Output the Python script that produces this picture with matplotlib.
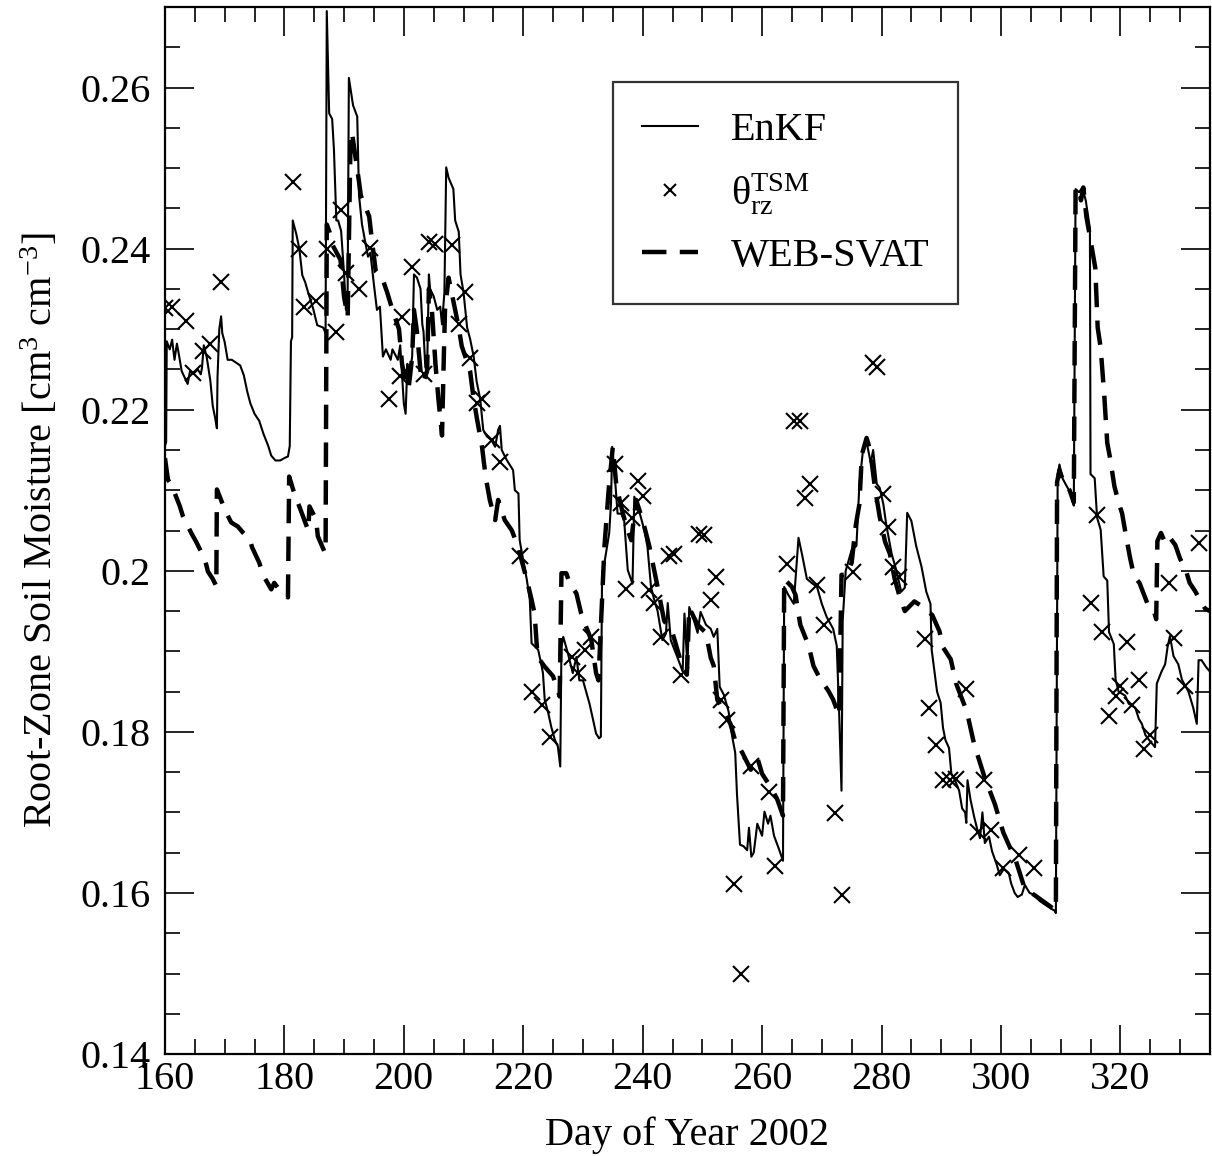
import numpy as np
import matplotlib
matplotlib.use("Agg")
import matplotlib.pyplot as plt
from matplotlib.ticker import MultipleLocator, FuncFormatter

# ================== DATA ==================
enkf_day = [160.0, 160.2, 160.3, 160.8, 161.2, 161.6, 162.0, 162.3, 162.8, 163.3, 163.8, 164.2, 164.8, 165.5,
            166.0, 166.2, 166.5, 167.0, 167.6, 168.0, 168.4, 168.7, 168.8, 169.1, 169.4, 169.6, 170.0, 170.5,
            171.2, 172.0, 172.6, 173.2, 173.8, 174.3, 175.0, 175.8, 176.5, 177.3, 177.8, 178.5, 179.3, 180.0,
            180.6, 180.9, 181.1, 181.3, 181.4, 182.0, 182.5, 183.0, 183.5, 184.0, 184.8, 185.5, 186.5, 186.9,
            187.1, 187.5, 188.0, 188.3, 188.7, 189.0, 189.5, 190.0, 190.3, 190.6, 190.8, 191.5, 192.2, 192.5,
            193.0, 194.0, 194.4, 195.0, 195.5, 196.0, 196.5, 197.0, 197.8, 198.1, 199.0, 199.4, 200.0, 200.3,
            200.6, 200.8, 201.4, 201.7, 202.2, 202.8, 203.1, 203.3, 203.6, 203.9, 204.2, 204.4, 205.0, 205.6,
            206.1, 206.4, 206.8, 207.1, 207.5, 208.3, 208.6, 209.2, 209.5, 210.0, 210.6, 211.1, 211.7, 212.2,
            212.8, 213.3, 213.9, 214.7, 215.3, 215.8, 216.1, 216.4, 217.2, 218.3, 218.6, 219.2, 219.4, 220.0,
            220.6, 221.1, 221.4, 222.5, 223.1, 223.3, 223.6, 224.2, 224.7, 225.3, 225.8, 226.2, 226.4, 226.7,
            227.5, 228.3, 228.9, 229.4, 230.0, 230.6, 231.1, 231.7, 232.2, 232.7, 233.0, 233.2, 233.6, 234.4,
            234.7, 234.9, 235.3, 235.8, 236.4, 236.9, 237.5, 238.3, 238.6, 239.2, 240.3, 240.8, 241.4, 241.9,
            242.5, 243.3, 243.9, 244.2, 244.7, 245.8, 246.7, 247.0, 247.5, 247.8, 248.6, 249.2, 249.7, 250.6,
            251.4, 251.9, 252.5, 252.9, 253.6, 254.4, 255.0, 255.5, 255.8, 256.3, 256.9, 257.5, 257.8, 258.2,
            258.6, 259.2, 260.0, 260.4, 261.0, 261.4, 262.0, 262.8, 263.5, 263.7, 264.4, 265.3, 266.1, 266.7,
            267.5, 268.3, 269.2, 270.0, 270.8, 271.9, 272.5, 272.9, 273.3, 273.5, 274.0, 275.0, 275.8, 276.3,
            276.9, 277.5, 278.2, 278.6, 279.2, 279.7, 280.3, 280.8, 281.7, 282.5, 283.3, 283.9, 284.3, 285.0,
            285.8, 286.7, 287.5, 288.2, 288.4, 289.3, 289.9, 290.3, 290.7, 291.3, 291.7, 292.3, 293.0, 293.5,
            294.0, 294.2, 294.4, 294.9, 295.5, 296.0, 296.5, 296.9, 297.3, 298.0, 298.5, 299.3, 299.8, 300.5,
            301.3, 301.7, 302.3, 302.8, 303.5, 304.0, 304.8, 305.5, 306.5, 307.5, 308.5, 309.0, 309.2, 309.5,
            309.8, 310.3, 310.8, 311.4, 311.9, 312.2, 312.5, 313.1, 313.6, 314.2, 314.6, 314.9, 315.0, 315.7,
            316.1, 316.7, 317.2, 317.8, 318.1, 318.9, 319.2, 319.7, 320.8, 321.4, 322.5, 323.1, 323.6, 324.2,
            324.7, 325.8, 326.1, 326.9, 327.5, 327.9, 328.3, 328.9, 329.7, 330.3, 331.4, 332.2, 332.8, 333.1,
            333.6, 334.4, 335.0]
enkf_val = [0.2155, 0.2160, 0.2285, 0.2275, 0.2287, 0.2262, 0.2282, 0.2270, 0.2248, 0.2240, 0.2232, 0.2248,
            0.2245, 0.2250, 0.2244, 0.2252, 0.2280, 0.2265, 0.2236, 0.2205, 0.2190, 0.2177, 0.2240, 0.2300,
            0.2316, 0.2295, 0.2284, 0.2262, 0.2262, 0.2258, 0.2255, 0.2243, 0.2222, 0.2208, 0.2195, 0.2186,
            0.2170, 0.2155, 0.2143, 0.2137, 0.2137, 0.2140, 0.2142, 0.2155, 0.2285, 0.2290, 0.2435, 0.2418,
            0.2400, 0.2367, 0.2358, 0.2345, 0.2326, 0.2305, 0.2302, 0.2295, 0.2695, 0.2568, 0.2561, 0.2523,
            0.2435, 0.2435, 0.2422, 0.2368, 0.2324, 0.2350, 0.2612, 0.2578, 0.2564, 0.2466, 0.2430, 0.2390,
            0.2395, 0.2355, 0.2324, 0.2328, 0.2266, 0.2275, 0.2262, 0.2275, 0.2262, 0.2280, 0.2208, 0.2195,
            0.2257, 0.2235, 0.2266, 0.2368, 0.2364, 0.2350, 0.2306, 0.2297, 0.2253, 0.2248, 0.2368, 0.2350,
            0.2341, 0.2324, 0.2328, 0.2306, 0.2346, 0.2501, 0.2488, 0.2474, 0.2435, 0.2421, 0.2368, 0.2346,
            0.2302, 0.2288, 0.2266, 0.2235, 0.2213, 0.2175, 0.2167, 0.2162, 0.2154, 0.2175, 0.2180, 0.2150,
            0.2138, 0.2125, 0.2100, 0.2096, 0.2038, 0.2013, 0.1989, 0.1964, 0.1910, 0.1902, 0.1881, 0.1873,
            0.1840, 0.1823, 0.1806, 0.1790, 0.1782, 0.1757, 0.1906, 0.1918, 0.1897, 0.1873, 0.1893, 0.1864,
            0.1864, 0.1848, 0.1835, 0.1815, 0.1798, 0.1792, 0.1794, 0.1997, 0.2010, 0.2047, 0.2084, 0.2154,
            0.2121, 0.2071, 0.2071, 0.2063, 0.2001, 0.1984, 0.2092, 0.2080, 0.2050, 0.2030, 0.1980, 0.1965,
            0.1950, 0.1914, 0.1922, 0.1960, 0.1914, 0.1893, 0.1875, 0.1947, 0.1880, 0.1955, 0.1938, 0.1923,
            0.1949, 0.1933, 0.1928, 0.1918, 0.1928, 0.1856, 0.1846, 0.1825, 0.1794, 0.1774, 0.1722, 0.1660,
            0.1658, 0.1653, 0.1681, 0.1645, 0.1650, 0.1686, 0.1671, 0.1701, 0.1686, 0.1696, 0.1671, 0.1655,
            0.1640, 0.1980, 0.1970, 0.1959, 0.2041, 0.2020, 0.1990, 0.1985, 0.1980, 0.1959, 0.1943, 0.1928,
            0.1907, 0.1825, 0.1727, 0.1938, 0.2000, 0.2026, 0.2031, 0.2108, 0.2150, 0.2160, 0.2134, 0.2150,
            0.2108, 0.2103, 0.2083, 0.2057, 0.2021, 0.2000, 0.1974, 0.1979, 0.2072, 0.2062, 0.2031, 0.2005,
            0.1974, 0.1959, 0.1902, 0.1850, 0.1836, 0.1805, 0.1790, 0.1780, 0.1748, 0.1740, 0.1727, 0.1705,
            0.1700, 0.1687, 0.1740, 0.1716, 0.1695, 0.1680, 0.1668, 0.1700, 0.1662, 0.1670, 0.1652, 0.1635,
            0.1622, 0.1630, 0.1625, 0.1612, 0.1600, 0.1595, 0.1598, 0.1610, 0.1600, 0.1598, 0.1590, 0.1585,
            0.1580, 0.1578, 0.1575, 0.2120, 0.2132, 0.2115, 0.2108, 0.2100, 0.2090, 0.2081, 0.2474, 0.2470,
            0.2476, 0.2460, 0.2440, 0.2425, 0.2120, 0.2115, 0.2066, 0.2051, 0.1993, 0.1988, 0.1924, 0.1909,
            0.1865, 0.1850, 0.1845, 0.1835, 0.1830, 0.1816, 0.1810, 0.1796, 0.1791, 0.1781, 0.1860, 0.1875,
            0.1884, 0.1905, 0.1919, 0.1894, 0.1884, 0.1865, 0.1850, 0.1830, 0.1810, 0.1889, 0.1889, 0.1880,
            0.1875]

web_day = [160.0, 160.5, 161.0, 161.4, 162.5, 163.0, 164.4, 165.3, 166.7, 167.2, 168.0, 168.6, 168.7, 169.4,
           170.0, 171.1, 172.2, 173.0, 174.2, 174.6, 175.8, 176.4, 177.8, 178.3, 179.0, 180.0, 180.6, 180.8,
           181.5, 182.5, 183.3, 184.0, 184.2, 185.3, 185.6, 186.7, 186.9, 187.1, 187.6, 188.1, 189.4, 190.0,
           190.6, 191.1, 191.4, 192.5, 192.8, 194.2, 194.7, 195.3, 196.4, 197.2, 198.1, 199.2, 199.7, 200.3,
           200.8, 201.4, 201.7, 202.2, 202.8, 203.3, 203.9, 204.2, 204.7, 205.3, 205.8, 206.4, 206.7, 206.9,
           207.5, 208.6, 209.2, 209.7, 210.3, 211.1, 211.7, 212.2, 213.1, 213.7, 214.4, 215.3, 215.8, 216.9,
           218.1, 218.9, 219.4, 220.6, 221.4, 221.9, 222.4, 223.6, 225.0, 226.1, 226.4, 227.2, 227.8, 228.9,
           229.7, 230.3, 231.4, 232.2, 232.6, 233.1, 233.6, 234.3, 235.0, 235.6, 236.7, 237.5, 238.1, 238.9,
           240.0, 241.1, 242.5, 243.6, 245.0, 246.4, 247.4, 247.8, 249.2, 250.6, 251.4, 251.9, 252.5, 253.6,
           254.7, 255.5, 256.7, 258.1, 259.2, 260.0, 261.4, 262.5, 263.5, 263.7, 265.0, 265.6, 266.4, 267.8,
           268.6, 269.7, 271.1, 271.9, 272.9, 273.3, 274.2, 275.0, 275.7, 276.3, 276.7, 277.5, 278.1, 278.9,
           279.7, 280.6, 281.4, 282.2, 283.0, 283.9, 285.5, 287.0, 288.5, 289.7, 290.3, 291.6, 292.5, 294.3,
           295.5, 297.2, 299.0, 300.4, 302.5, 304.0, 305.5, 307.0, 308.5, 309.2, 309.4, 309.8, 310.5, 311.5,
           312.2, 312.5, 313.0, 313.4, 313.8, 314.3, 314.9, 315.8, 316.2, 316.7, 317.3, 317.8, 318.3, 319.0,
           319.7, 320.3, 320.9, 321.6, 322.3, 323.2, 324.5, 325.5, 326.0, 326.2, 326.8, 327.5, 328.2, 329.2,
           330.0, 331.0, 331.6, 332.5, 333.4, 334.2, 335.0]
web_val = [0.2140, 0.2113, 0.2108, 0.2101, 0.2080, 0.2068, 0.2047, 0.2035, 0.2014, 0.1999, 0.1990, 0.1981,
           0.2101, 0.2088, 0.2076, 0.2060, 0.2055, 0.2048, 0.2039, 0.2029, 0.2010, 0.1995, 0.1977, 0.1985,
           0.1978, 0.1970, 0.1967, 0.2117, 0.2100, 0.2080, 0.2064, 0.2050, 0.2080, 0.2064, 0.2043, 0.2024,
           0.2022, 0.2430, 0.2420, 0.2404, 0.2386, 0.2340, 0.2315, 0.2545, 0.2540, 0.2483, 0.2466, 0.2440,
           0.2408, 0.2372, 0.2363, 0.2346, 0.2324, 0.2300, 0.2257, 0.2235, 0.2226, 0.2266, 0.2324, 0.2297,
           0.2248, 0.2235, 0.2248, 0.2350, 0.2324, 0.2257, 0.2213, 0.2168, 0.2266, 0.2324, 0.2364, 0.2324,
           0.2302, 0.2279, 0.2266, 0.2248, 0.2213, 0.2191, 0.2154, 0.2117, 0.2088, 0.2063, 0.2088, 0.2063,
           0.2050, 0.2034, 0.2022, 0.1989, 0.1964, 0.1947, 0.1893, 0.1881, 0.1869, 0.1844, 0.1997, 0.1997,
           0.1984, 0.1972, 0.1947, 0.1935, 0.1914, 0.1873, 0.1864, 0.1947, 0.2030, 0.2100, 0.2154, 0.2105,
           0.2071, 0.2050, 0.2038, 0.2088, 0.2063, 0.2031, 0.1980, 0.1938, 0.1923, 0.1887, 0.1871, 0.1954,
           0.1933, 0.1923, 0.1892, 0.1882, 0.1840, 0.1825, 0.1810, 0.1789, 0.1774, 0.1753, 0.1768, 0.1748,
           0.1732, 0.1717, 0.1696, 0.1990, 0.1980, 0.1970, 0.1933, 0.1907, 0.1882, 0.1866, 0.1851, 0.1840,
           0.1820, 0.1995, 0.1995, 0.2010, 0.2057, 0.2083, 0.2144, 0.2165, 0.2150, 0.2103, 0.2067, 0.2036,
           0.2021, 0.1990, 0.1969, 0.1950, 0.1962, 0.1955, 0.1945, 0.1925, 0.1905, 0.1890, 0.1860, 0.1825,
           0.1785, 0.1745, 0.1710, 0.1675, 0.1640, 0.1605, 0.1598, 0.1590, 0.1582, 0.1578, 0.2110, 0.2125,
           0.2110, 0.2100, 0.2085, 0.2474, 0.2476, 0.2460, 0.2476, 0.2440, 0.2415, 0.2376, 0.2302, 0.2277,
           0.2218, 0.2159, 0.2139, 0.2105, 0.2085, 0.2071, 0.2045, 0.2017, 0.1993, 0.1985, 0.1960, 0.1953,
           0.1940, 0.2037, 0.2047, 0.2035, 0.2042, 0.2032, 0.2015, 0.2000, 0.1985, 0.1975, 0.1963, 0.1953,
           0.1950]

tsm_day = [160.0, 161.1, 163.6, 164.7, 166.4, 167.5, 169.4, 181.4, 182.5, 183.3, 185.3, 187.2, 188.6, 189.4,
           190.3, 192.5, 194.4, 197.5, 199.4, 199.7, 201.4, 203.3, 204.2, 205.3, 208.1, 209.2, 210.3, 211.1,
           212.2, 213.1, 214.7, 216.1, 219.4, 221.4, 223.1, 224.4, 228.1, 229.2, 230.3, 231.4, 235.3, 236.4,
           237.2, 238.2, 239.2, 240.1, 241.1, 241.9, 243.0, 244.4, 245.2, 246.4, 249.4, 250.3, 251.4, 252.2,
           253.1, 254.2, 255.3, 256.4, 258.1, 261.1, 262.2, 264.2, 265.3, 266.4, 267.2, 268.0, 269.2, 270.3,
           272.2, 273.3, 275.3, 278.5, 279.3, 280.3, 281.1, 281.9, 283.0, 287.2, 288.0, 289.2, 290.3, 291.4,
           292.5, 294.2, 296.1, 297.2, 298.3, 300.3, 303.1, 305.6, 315.0, 316.1, 317.0, 318.1, 319.2, 320.0,
           321.1, 322.0, 323.1, 323.9, 325.0, 328.1, 328.9, 330.8, 333.1]
tsm_val = [0.2326, 0.2327, 0.2310, 0.2246, 0.2273, 0.2282, 0.2359, 0.2483, 0.2399, 0.2328, 0.2335, 0.2399,
           0.2297, 0.2448, 0.2370, 0.2350, 0.2401, 0.2213, 0.2242, 0.2315, 0.2377, 0.2244, 0.2408, 0.2406,
           0.2404, 0.2306, 0.2346, 0.2264, 0.2208, 0.2213, 0.2162, 0.2135, 0.2019, 0.1850, 0.1833, 0.1794,
           0.1893, 0.1873, 0.1902, 0.1918, 0.2133, 0.2084, 0.1977, 0.2066, 0.2112, 0.2093, 0.1976, 0.1960,
           0.1918, 0.2018, 0.2021, 0.1871, 0.2046, 0.2045, 0.1964, 0.1992, 0.1840, 0.1815, 0.1611, 0.1500,
           0.1758, 0.1725, 0.1634, 0.2008, 0.2186, 0.2186, 0.2090, 0.2108, 0.1982, 0.1933, 0.1699, 0.1598,
           0.1998, 0.2258, 0.2253, 0.2095, 0.2054, 0.2005, 0.1992, 0.1915, 0.1830, 0.1784, 0.1740, 0.1740,
           0.1742, 0.1853, 0.1676, 0.1740, 0.1678, 0.1631, 0.1647, 0.1631, 0.1960, 0.2069, 0.1924, 0.1820,
           0.1845, 0.1857, 0.1911, 0.1833, 0.1865, 0.1779, 0.1796, 0.1985, 0.1916, 0.1857, 0.2034]

# ================== STYLE ==================
plt.rcParams["font.family"] = ["Liberation Serif", "DejaVu Serif"]
plt.rcParams["mathtext.fontset"] = "custom"
plt.rcParams["mathtext.rm"] = "Liberation Serif"
plt.rcParams["mathtext.it"] = "Liberation Serif:italic"
plt.rcParams["mathtext.bf"] = "Liberation Serif:bold"

FS = 29

fig = plt.figure(figsize=(12.12, 11.56), dpi=100)
ax = fig.add_axes([0.1361, 0.0882, 0.9983 - 0.1361, 0.9939 - 0.0882])

ax.plot(enkf_day, enkf_val, color="black", linewidth=1.5, label="EnKF")
ax.plot(tsm_day, tsm_val, linestyle="none", marker="x", color="black", markersize=11,
        markeredgewidth=1.5, label=r"$\mathrm{\theta}_{\mathrm{rz}}^{\mathrm{TSM}}$")
ax.plot(web_day, web_val, color="black", linewidth=3.2, dashes=(5.5, 3.0), label="WEB-SVAT")

ax.set_xlim(160, 335)
ax.set_ylim(0.14, 0.27)
ax.xaxis.set_major_locator(MultipleLocator(20))
ax.xaxis.set_minor_locator(MultipleLocator(5))
ax.yaxis.set_major_locator(MultipleLocator(0.02))
ax.yaxis.set_minor_locator(MultipleLocator(0.005))
ax.yaxis.set_major_formatter(FuncFormatter(lambda v, p: f"{v:g}"))

ax.tick_params(which="both", direction="in", top=True, right=True, labelsize=FS, width=1.2)
ax.tick_params(which="major", length=21)
ax.tick_params(which="minor", length=10.5)
ax.tick_params(axis="y", which="major", pad=10)
ax.tick_params(axis="x", which="major", pad=5)
for s in ax.spines.values():
    s.set_linewidth(1.6)

ax.set_xlabel("Day of Year 2002", fontsize=FS, labelpad=13)
ax.set_ylabel(r"Root-Zone Soil Moisture [cm$^{3}$ cm$^{-3}$]", fontsize=FS, labelpad=14)

leg = ax.legend(loc="upper left", bbox_to_anchor=(0.4287, 0.928), borderaxespad=0.0, fontsize=FS,
                frameon=True, fancybox=False, edgecolor="black", handlelength=1.4, handletextpad=0.8,
                borderpad=0.72, labelspacing=0.55, markerscale=0.75)
leg.get_frame().set_linewidth(1.6)

fig.savefig("out.png", dpi=100)
